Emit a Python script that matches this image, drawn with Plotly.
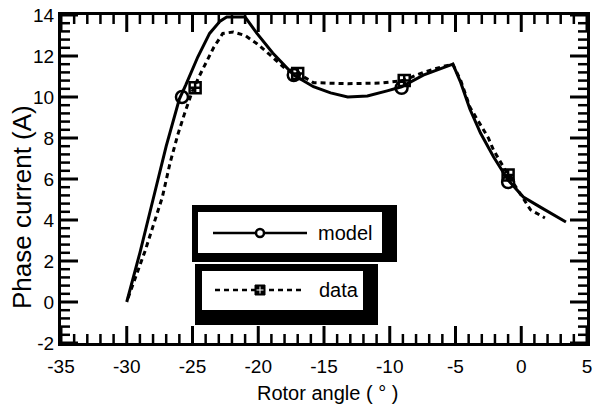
import plotly.graph_objects as go

# ---- data ----
model_x = [-30.0, -29.0, -28.0, -27.0, -26.0, -25.5, -24.6, -23.7, -22.9, -22.4, -21.0,
           -20.1, -18.9, -17.3, -15.8, -14.5, -13.2, -11.7, -10.2, -9.1, -7.45, -5.9,
           -5.2, -4.6, -3.9, -3.1, -2.1, -1.0, 0.16, 1.45, 3.4]
model_y = [0.0, 2.4, 5.0, 7.6, 9.9, 10.6, 11.95, 13.1, 13.7, 13.9, 13.9,
           13.1, 12.15, 11.07, 10.5, 10.2, 10.0, 10.05, 10.3, 10.5, 11.07, 11.45,
           11.6, 10.7, 9.4, 8.24, 7.07, 5.95, 5.12, 4.63, 3.9]

data_x = [-29.9, -28.6, -28.0, -27.3, -26.7, -26.1, -25.6, -25.0, -24.5, -23.9, -23.4,
          -22.7, -21.9, -21.0, -20.1, -19.1, -17.8, -17.0, -15.8, -13.2, -10.7, -9.0,
          -7.45, -5.9, -5.2, -4.6, -3.9, -2.5, -2.1, -1.0, 0.7, 1.8]
data_y = [0.2, 2.5, 3.7, 5.1, 6.8, 8.2, 9.2, 10.3, 11.0, 11.8, 12.4,
          13.1, 13.17, 13.0, 12.6, 12.05, 11.3, 11.15, 10.7, 10.65, 10.68, 10.8,
          11.2, 11.5, 11.6, 10.8, 9.5, 8.0, 7.4, 6.2, 4.5, 4.1]

model_mark_x = [-25.8, -17.3, -9.1, -1.0]
model_mark_y = [10.0, 11.07, 10.45, 5.85]
data_mark_x = [-24.8, -17.0, -8.9, -1.0]
data_mark_y = [10.45, 11.15, 10.8, 6.2]

x_ticks = [-35, -30, -25, -20, -15, -10, -5, 0, 5]
y_ticks = [-2, 0, 2, 4, 6, 8, 10, 12, 14]
x_minor_per_major, y_minor_per_major = 5, 5
x_title = "Rotor angle ( ° )"
y_title = "Phase current (A)"
legend_names = ["model", "data"]

FONT = "Liberation Sans, Arial, sans-serif"
W, H = 598, 409
L, R, T, B = 61, 11, 15, 66
PW, PH = W - L - R, H - T - B
MAJ, MIN = 17, 9  # tick lengths in pixels

x_lo, x_hi = x_ticks[0], x_ticks[-1]
y_lo, y_hi = y_ticks[0], y_ticks[-1]


def px(x):
    return (x - L) / PW


def py(y):
    return (H - B - y) / PH


def minors(ticks, n):
    out = []
    for a, b in zip(ticks[:-1], ticks[1:]):
        for k in range(1, n):
            out.append(a + (b - a) * k / n)
    return out


fig = go.Figure()
fig.add_trace(go.Scatter(x=data_x, y=data_y, mode="lines",
                         line=dict(color="black", width=3, dash="5px,4px"),
                         showlegend=False, hoverinfo="skip"))
fig.add_trace(go.Scatter(x=model_x, y=model_y, mode="lines",
                         line=dict(color="black", width=3),
                         showlegend=False, hoverinfo="skip"))
fig.add_trace(go.Scatter(x=model_mark_x, y=model_mark_y, mode="markers",
                         marker=dict(symbol="circle-open", size=12, color="black",
                                     line=dict(width=2.5, color="black")),
                         showlegend=False, hoverinfo="skip"))
fig.add_trace(go.Scatter(x=data_mark_x, y=data_mark_y, mode="markers",
                         marker=dict(symbol="square-cross-open", size=11, color="black",
                                     line=dict(width=2.5, color="black")),
                         showlegend=False, hoverinfo="skip"))

shapes = []
# tick marks, inside, on all four sides: drawn as thin filled rectangles
for xs, ys, ln, w in [(x_ticks, y_ticks, MAJ, 3),
                      (minors(x_ticks, x_minor_per_major), minors(y_ticks, y_minor_per_major), MIN, 2.5)]:
    for v in xs:
        f = (v - x_lo) / (x_hi - x_lo)
        hw = w / 2 / PW
        for y0, y1 in [(0, ln / PH), (1 - ln / PH, 1)]:
            shapes.append(dict(type="rect", xref="paper", yref="paper", x0=f - hw, x1=f + hw,
                               y0=y0, y1=y1, fillcolor="black", line=dict(width=0),
                               layer="above"))
    for v in ys:
        f = (v - y_lo) / (y_hi - y_lo)
        hh = w / 2 / PH
        for x0, x1 in [(0, ln / PW), (1 - ln / PW, 1)]:
            shapes.append(dict(type="rect", xref="paper", yref="paper", x0=x0, x1=x1,
                               y0=f - hh, y1=f + hh, fillcolor="black", line=dict(width=0),
                               layer="above"))

# legend boxes: black shadow block then white interior
boxes = [((192, 205, 397, 262), (198, 212, 382, 253)),
         ((195, 264, 378, 325), (202, 271, 363, 310))]
for outer, inner in boxes:
    shapes.append(dict(type="rect", xref="paper", yref="paper",
                       x0=px(outer[0]), x1=px(outer[2]), y0=py(outer[1]), y1=py(outer[3]),
                       fillcolor="black", line=dict(width=0), layer="above"))
    shapes.append(dict(type="rect", xref="paper", yref="paper",
                       x0=px(inner[0]), x1=px(inner[2]), y0=py(inner[1]), y1=py(inner[3]),
                       fillcolor="white", line=dict(width=0), layer="above"))
shapes.append(dict(type="line", xref="paper", yref="paper", x0=px(213), x1=px(307),
                   y0=py(233), y1=py(233), line=dict(color="black", width=2.5), layer="above"))
shapes.append(dict(type="circle", xref="paper", yref="paper", x0=px(256), x1=px(264),
                   y0=py(229), y1=py(237), fillcolor="white",
                   line=dict(color="black", width=2.5), layer="above"))
shapes.append(dict(type="line", xref="paper", yref="paper", x0=px(215), x1=px(305),
                   y0=py(290), y1=py(290), line=dict(color="black", width=2.5, dash="5px,4px"),
                   layer="above"))
shapes.append(dict(type="rect", xref="paper", yref="paper", x0=px(255), x1=px(265),
                   y0=py(285), y1=py(295), fillcolor="black",
                   line=dict(color="black", width=1), layer="above"))
shapes.append(dict(type="line", xref="paper", yref="paper", x0=px(260), x1=px(260),
                   y0=py(286.5), y1=py(293.5), line=dict(color="white", width=1), layer="above"))
shapes.append(dict(type="line", xref="paper", yref="paper", x0=px(256.5), x1=px(263.5),
                   y0=py(290), y1=py(290), line=dict(color="white", width=1), layer="above"))

annotations = [
    dict(text=legend_names[0], xref="paper", yref="paper", x=px(316), y=py(233),
         xanchor="left", yanchor="middle", showarrow=False,
         font=dict(family=FONT, size=20, color="black")),
    dict(text=legend_names[1], xref="paper", yref="paper", x=px(317), y=py(290),
         xanchor="left", yanchor="middle", showarrow=False,
         font=dict(family=FONT, size=20, color="black")),
    dict(text=x_title, xref="paper", yref="paper", x=px(327), y=py(393),
         xanchor="center", yanchor="middle", showarrow=False,
         font=dict(family=FONT, size=20, color="black")),
    dict(text=y_title, xref="paper", yref="paper", x=px(22), y=py(207),
         xanchor="center", yanchor="middle", showarrow=False, textangle=-90,
         font=dict(family=FONT, size=26, color="black")),
]

axis_common = dict(showgrid=False, zeroline=False, showline=True, linecolor="black",
                   linewidth=3, mirror=True, ticks="",
                   tickfont=dict(family=FONT, size=19, color="black"))

fig.update_layout(
    width=W, height=H,
    margin=dict(l=L, r=R, t=T, b=B, autoexpand=False),
    paper_bgcolor="white", plot_bgcolor="white",
    showlegend=False,
    shapes=shapes, annotations=annotations,
    xaxis=dict(range=[x_lo, x_hi], tickmode="array", tickvals=x_ticks,
               ticktext=[str(v) for v in x_ticks], ticklabelstandoff=4, **axis_common),
    yaxis=dict(range=[y_lo, y_hi], tickmode="array", tickvals=y_ticks,
               ticktext=[str(v) for v in y_ticks], **axis_common),
)

fig.write_html("out.html")
